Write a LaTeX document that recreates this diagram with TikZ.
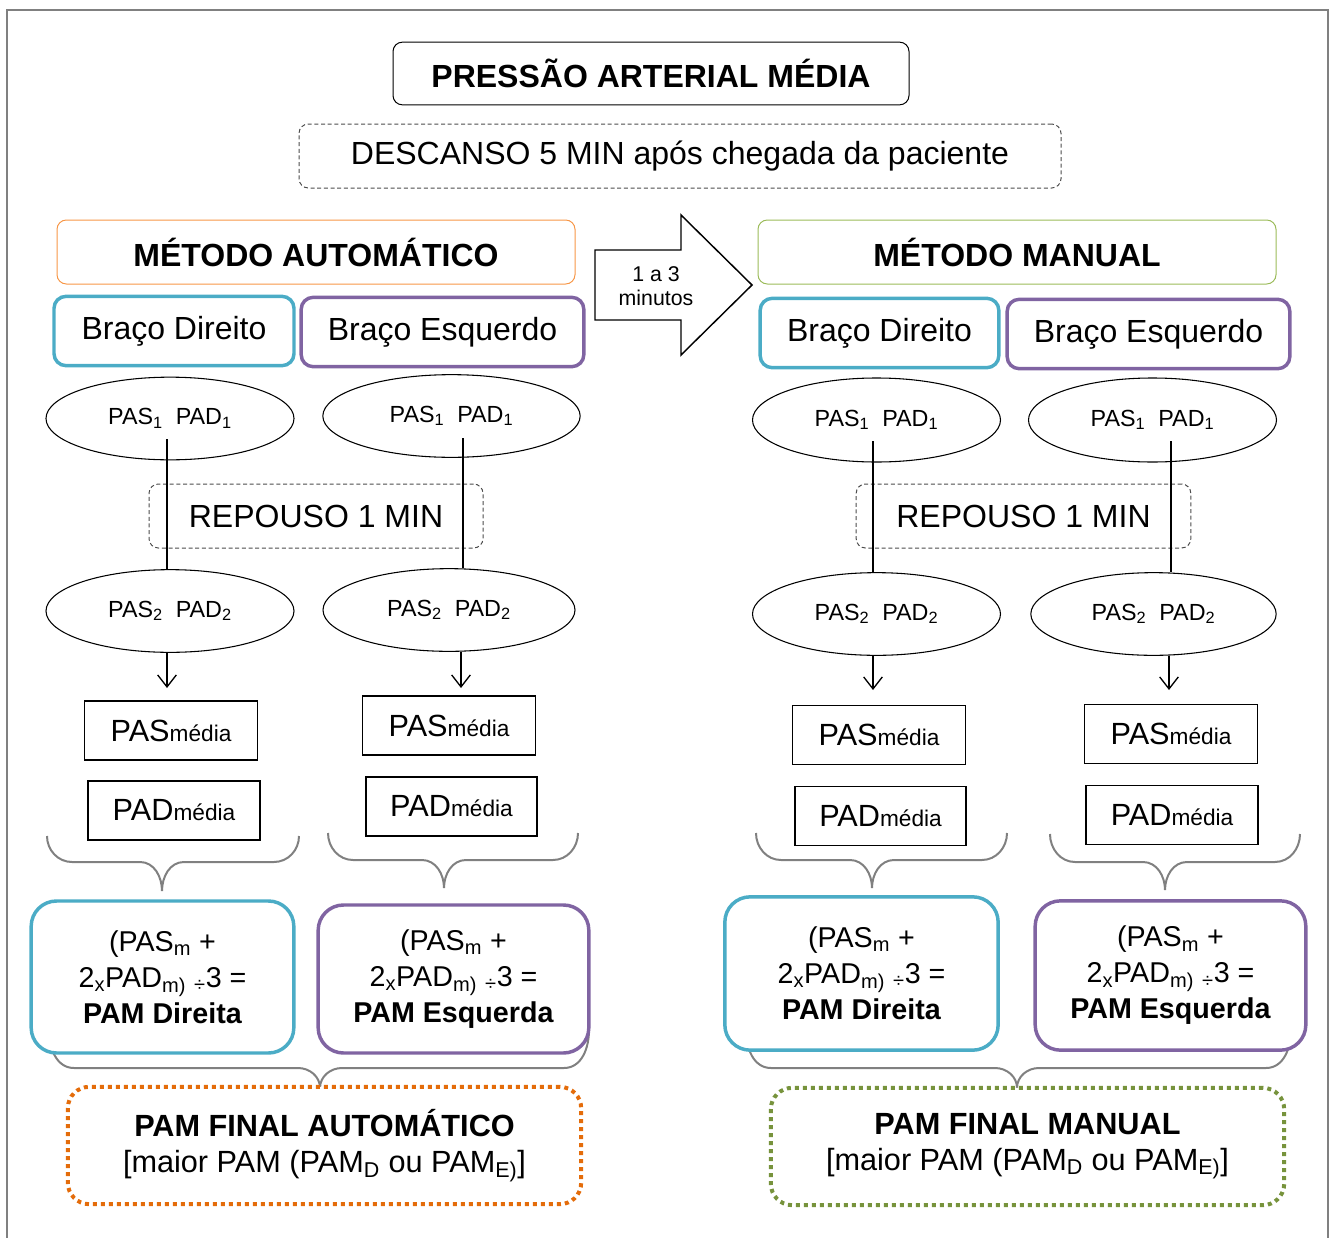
\documentclass[tikz,border=0pt]{standalone}
\usepackage{fontspec}
\setmainfont{Liberation Sans}
\usepackage{tikz}
\usetikzlibrary{shapes.geometric,arrows.meta,positioning,calc}

\definecolor{direito}{HTML}{4BACC6}
\definecolor{esquerdo}{HTML}{8064A2}
\definecolor{laranja}{HTML}{F79646}
\definecolor{laranjaesc}{HTML}{E46C0A}
\definecolor{verde}{HTML}{9BBB59}
\definecolor{verdeesc}{HTML}{77933C}
\definecolor{cinza}{HTML}{808080}

\begin{document}
\begin{tikzpicture}[x=0.75pt,y=-0.75pt,
  caixa/.style={draw,align=center,inner sep=2pt},
  titulo/.style={caixa,rounded corners=7pt,line width=0.75pt,
                 minimum width=387pt,minimum height=47pt,
                 font=\fontsize{24}{28}\selectfont\bfseries},
  tracejado/.style={caixa,rounded corners=7pt,line width=0.75pt,draw=black!70,
                    dash pattern=on 3pt off 2pt,minimum height=48pt,
                    font=\fontsize{24}{28}\selectfont},
  braco/.style={caixa,rounded corners=9pt,line width=2.6pt,minimum height=52pt,
                font=\fontsize{24}{28}\selectfont},
  elipse/.style={ellipse,draw,line width=0.8pt,inner sep=0pt,minimum width=186pt,
                 minimum height=62pt,font=\fontsize{17.5}{20}\selectfont},
  media/.style={caixa,line width=1.1pt,minimum width=130pt,minimum height=44.5pt,
                font=\fontsize{23}{28}\selectfont},
  formula/.style={caixa,rounded corners=19pt,line width=2.6pt,fill=white,
                  minimum width=200pt,minimum height=112pt,
                  font=\fontsize{21.5}{27}\selectfont},
  final/.style={caixa,rounded corners=16pt,line width=3pt,fill=white,
                dash pattern=on 3pt off 3pt,minimum width=385pt,minimum height=88pt,
                font=\fontsize{23}{26.5}\selectfont},
  chave/.style={draw=cinza,line width=1.5pt},
  linha/.style={line width=1pt},
  seta/.style={linha,-{Straight Barb[length=9pt,width=14pt,line width=1pt]}}
]
\useasboundingbox (0,0) rectangle (1335,1238);
\draw[cinza,line width=1.1pt] (7,10) rectangle (1328,1270);

% chaves
\foreach \xa/\xc/\xb/\yt/\yh/\yp in {47/162/299/836/862/891, 328/444/578/833/860/888,
    756/872/1007/833/860/888, 1050/1165/1300/834/862/890,
    49/320/589/1030/1068/1088, 746/1017/1291/1030/1068/1088}
  \draw[chave] (\xa,\yt) to[out=-90,in=180] (\xa+25,\yh) -- (\xc-22,\yh)
     to[out=0,in=90] (\xc,\yp) to[out=90,in=180] (\xc+22,\yh) -- (\xb-25,\yh)
     to[out=0,in=-90] (\xb,\yt);

\node[titulo] (pam) at (651,73.5) {PRESSÃO ARTERIAL MÉDIA};
\node[tracejado,minimum width=571.5pt] (descanso) at (680,156) {DESCANSO 5 MIN após chegada da paciente};

\node[titulo,draw=laranja,minimum width=388.5pt,minimum height=48pt] (auto) at (316,252) {MÉTODO AUTOMÁTICO};
\node[titulo,draw=verde,minimum width=388.5pt,minimum height=48pt] (manual) at (1017,252) {MÉTODO MANUAL};

\node[braco,draw=direito,minimum width=180pt] (bda) at (174,331) {Braço Direito};
\node[braco,draw=esquerdo,minimum width=212pt] (bea) at (442.5,332) {Braço Esquerdo};
\node[braco,draw=direito,minimum width=179pt] (bdm) at (879.5,333) {Braço Direito};
\node[braco,draw=esquerdo,minimum width=212pt] (bem) at (1148.5,334) {Braço Esquerdo};

% seta entre metodos
\draw[line width=1.1pt,fill=white] (595,250) -- (681,250) -- (681,215) -- (752,285)
   -- (681,355) -- (681,320) -- (595,320) -- cycle;
\node[align=center,font=\fontsize{16}{18}\selectfont] (pausa) at (656,286) {1 a 3\\minutos};

\node[elipse] (e1a) at (170,418.5) {PAS\textsubscript{1}~~PAD\textsubscript{1}};
\node[elipse,minimum width=193pt] (e1b) at (451.5,416) {PAS\textsubscript{1}~~PAD\textsubscript{1}};
\node[elipse,minimum height=63pt] (e1c) at (876.5,420) {PAS\textsubscript{1}~~PAD\textsubscript{1}};
\node[elipse,minimum height=63pt] (e1d) at (1152.5,420) {PAS\textsubscript{1}~~PAD\textsubscript{1}};

\node[tracejado,minimum width=250.5pt] (rep1) at (316,516) {REPOUSO 1 MIN};
\node[tracejado,minimum width=251pt] (rep2) at (1023.5,516) {REPOUSO 1 MIN};

\node[elipse] (e2a) at (170,611) {PAS\textsubscript{2}~~PAD\textsubscript{2}};
\node[elipse,minimum width=189pt] (e2b) at (449,610) {PAS\textsubscript{2}~~PAD\textsubscript{2}};
\node[elipse] (e2c) at (876.5,614) {PAS\textsubscript{2}~~PAD\textsubscript{2}};
\node[elipse,minimum width=184pt] (e2d) at (1153.5,614) {PAS\textsubscript{2}~~PAD\textsubscript{2}};

\coordinate (s1) at (167,439);
\coordinate (s2) at (463,438);
\coordinate (s3) at (873,441);
\coordinate (s4) at (1171,441);
\coordinate (t1) at (167,688);
\coordinate (t2) at (461,688);
\coordinate (t3) at (873,690);
\coordinate (t4) at (1169,690);
\foreach \i/\e in {1/a,2/b,3/c,4/d} {
  \draw[linha] (s\i) -- (s\i |- e2\e.north);
  \draw[seta] (t\i |- e2\e.south) -- (t\i);
}

\node[media] (pasa) at (171,730.5) {PAS{\fontsize{17}{17}\selectfont média}};
\node[media] (pasb) at (449,725.5) {PAS{\fontsize{17}{17}\selectfont média}};
\node[media] (pasc) at (879,735) {PAS{\fontsize{17}{17}\selectfont média}};
\node[media] (pasd) at (1171,734) {PAS{\fontsize{17}{17}\selectfont média}};
\node[media,minimum width=129pt] (pada) at (174,810.5) {PAD{\fontsize{17}{17}\selectfont média}};
\node[media,minimum width=128pt] (padb) at (451.5,806.5) {PAD{\fontsize{17}{17}\selectfont média}};
\node[media,minimum width=128pt] (padc) at (880.5,816) {PAD{\fontsize{17}{17}\selectfont média}};
\node[media,minimum width=129pt] (padd) at (1172,815) {PAD{\fontsize{17}{17}\selectfont média}};

\node[formula,draw=direito,minimum width=197pt,minimum height=114pt] (pamda) at (162.5,977)
  {(PAS\textsubscript{m} +\\2\textsubscript{x}PAD\textsubscript{m)} \textsubscript{÷}3 =\\\textbf{PAM Direita}};
\node[formula,draw=esquerdo,minimum width=203pt,minimum height=111pt] (pamea) at (453.5,979)
  {(PAS\textsubscript{m} +\\2\textsubscript{x}PAD\textsubscript{m)} \textsubscript{÷}3 =\\\textbf{PAM Esquerda}};
\node[formula,draw=direito,minimum width=205pt,minimum height=115pt] (pamdm) at (861.5,973.5)
  {(PAS\textsubscript{m} +\\2\textsubscript{x}PAD\textsubscript{m)} \textsubscript{÷}3 =\\\textbf{PAM Direita}};
\node[formula,draw=esquerdo,minimum width=203pt,minimum height=112pt] (pamem) at (1170.5,975.5)
  {(PAS\textsubscript{m} +\\2\textsubscript{x}PAD\textsubscript{m)} \textsubscript{÷}3 =\\\textbf{PAM Esquerda}};

\node[final,draw=laranjaesc] (fimauto) at (324.5,1145.5)
  {\textbf{PAM FINAL AUTOMÁTICO}\\{}[maior PAM (PAM\textsubscript{D} ou PAM\textsubscript{E)}]};
\node[final,draw=verdeesc] (fimmanual) at (1027.5,1146.5)
  {\textbf{PAM FINAL MANUAL}\\{}[maior PAM (PAM\textsubscript{D} ou PAM\textsubscript{E)}]};
\end{tikzpicture}
\end{document}
